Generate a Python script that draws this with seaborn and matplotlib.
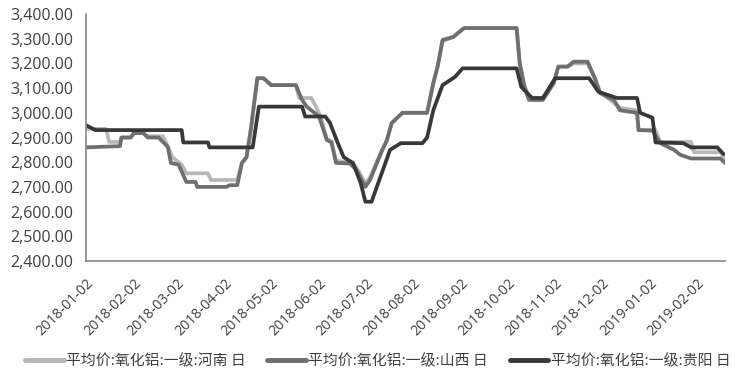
import matplotlib
matplotlib.use("Agg")
import matplotlib.pyplot as plt
import matplotlib.dates as mdates
from matplotlib.ticker import FuncFormatter, MultipleLocator
import seaborn as sns
import pandas as pd

# ---- data ----
henan_dates = ["2018-01-02", "2018-01-15", "2018-01-17", "2018-01-24", "2018-01-25", "2018-01-31",
               "2018-02-02", "2018-02-08", "2018-02-11", "2018-02-21", "2018-02-27", "2018-03-05",
               "2018-03-08", "2018-03-22", "2018-03-24", "2018-04-10", "2018-04-13", "2018-04-16",
               "2018-04-19", "2018-04-23", "2018-04-27", "2018-05-02", "2018-05-18", "2018-05-20",
               "2018-05-28", "2018-05-31", "2018-06-03", "2018-06-07", "2018-06-10", "2018-06-13",
               "2018-06-22", "2018-06-26", "2018-07-02", "2018-07-05", "2018-07-12", "2018-07-16",
               "2018-07-19", "2018-07-26", "2018-08-11", "2018-08-15", "2018-08-18", "2018-08-21",
               "2018-08-28", "2018-08-31", "2018-09-04", "2018-10-08", "2018-10-10", "2018-10-13",
               "2018-10-16", "2018-10-25", "2018-11-01", "2018-11-04", "2018-11-10", "2018-11-14",
               "2018-11-23", "2018-11-28", "2018-12-01", "2018-12-10", "2018-12-14", "2018-12-25",
               "2018-12-26", "2019-01-06", "2019-01-09", "2019-01-29", "2019-01-31", "2019-02-17",
               "2019-02-20"]
henan_values = [2935, 2935, 2882, 2882, 2900, 2900,
                2918, 2918, 2905, 2905, 2820, 2790,
                2755, 2755, 2728, 2728, 2797, 2820,
                2942, 3140, 3140, 3112, 3112, 3060,
                3060, 3025, 2985, 2895, 2885, 2805,
                2800, 2780, 2715, 2738, 2840, 2890,
                2958, 3000, 3000, 3120, 3193, 3290,
                3307, 3323, 3343, 3343, 3200, 3115,
                3055, 3055, 3120, 3187, 3187, 3200,
                3200, 3135, 3085, 3040, 3020, 3010,
                2930, 2930, 2882, 2882, 2840, 2840,
                2815]

shanxi_dates = ["2018-01-02", "2018-01-24", "2018-01-25", "2018-01-31", "2018-02-02", "2018-02-08",
                "2018-02-11", "2018-02-18", "2018-02-24", "2018-02-26", "2018-03-03", "2018-03-08",
                "2018-03-14", "2018-03-15", "2018-04-03", "2018-04-05", "2018-04-10", "2018-04-13",
                "2018-04-16", "2018-04-19", "2018-04-23", "2018-04-27", "2018-05-02", "2018-05-18",
                "2018-05-22", "2018-05-25", "2018-05-28", "2018-06-02", "2018-06-07", "2018-06-10",
                "2018-06-13", "2018-06-22", "2018-06-26", "2018-07-02", "2018-07-05", "2018-07-12",
                "2018-07-16", "2018-07-19", "2018-07-26", "2018-08-11", "2018-08-15", "2018-08-18",
                "2018-08-21", "2018-08-28", "2018-08-31", "2018-09-04", "2018-10-08", "2018-10-10",
                "2018-10-13", "2018-10-16", "2018-10-25", "2018-11-01", "2018-11-04", "2018-11-10",
                "2018-11-14", "2018-11-23", "2018-11-28", "2018-12-01", "2018-12-10", "2018-12-14",
                "2018-12-25", "2018-12-26", "2019-01-04", "2019-01-09", "2019-01-18", "2019-01-22",
                "2019-01-29", "2019-02-17", "2019-02-20"]
shanxi_values = [2860, 2865, 2900, 2900, 2918, 2918,
                 2900, 2900, 2862, 2797, 2790, 2720,
                 2720, 2700, 2700, 2707, 2707, 2797,
                 2820, 2942, 3140, 3140, 3112, 3112,
                 3052, 3025, 3010, 2985, 2890, 2880,
                 2797, 2795, 2770, 2700, 2728, 2835,
                 2890, 2958, 3000, 3000, 3120, 3193,
                 3295, 3307, 3323, 3343, 3343, 3200,
                 3105, 3052, 3052, 3120, 3187, 3187,
                 3207, 3207, 3135, 3080, 3052, 3010,
                 3000, 2930, 2928, 2877, 2850, 2830,
                 2815, 2815, 2797]

guiyang_dates = ["2018-01-02", "2018-01-08", "2018-03-05", "2018-03-06", "2018-03-22", "2018-03-23",
                 "2018-04-20", "2018-04-24", "2018-05-22", "2018-05-24", "2018-06-06", "2018-06-09",
                 "2018-06-14", "2018-06-18", "2018-06-24", "2018-06-29", "2018-07-02", "2018-07-06",
                 "2018-07-14", "2018-07-18", "2018-07-25", "2018-08-08", "2018-08-11", "2018-08-15",
                 "2018-08-21", "2018-08-29", "2018-09-03", "2018-10-08", "2018-10-11", "2018-10-18",
                 "2018-10-25", "2018-11-02", "2018-11-24", "2018-11-30", "2018-12-12", "2018-12-25",
                 "2018-12-27", "2019-01-04", "2019-01-06", "2019-01-24", "2019-01-29", "2019-02-15",
                 "2019-02-19"]
guiyang_values = [2950, 2930, 2930, 2880, 2880, 2860,
                  2860, 3025, 3025, 2985, 2985, 2960,
                  2880, 2820, 2797, 2715, 2640, 2640,
                  2780, 2850, 2877, 2877, 2900, 3010,
                  3112, 3145, 3180, 3180, 3105, 3060,
                  3060, 3140, 3140, 3085, 3060, 3060,
                  3000, 2980, 2880, 2877, 2860, 2860,
                  2833]

labels = ["平均价:氧化铝:一级:河南 日", "平均价:氧化铝:一级:山西 日", "平均价:氧化铝:一级:贵阳 日"]
colors = ["#b8b8b8", "#6f6f6f", "#383838"]
tick_dates = ["2018-01-02", "2018-02-02", "2018-03-02", "2018-04-02", "2018-05-02", "2018-06-02",
              "2018-07-02", "2018-08-02", "2018-09-02", "2018-10-02", "2018-11-02", "2018-12-02",
              "2019-01-02", "2019-02-02"]

# ---- build long table ----
frames = []
for lab, d, v in zip(labels, [henan_dates, shanxi_dates, guiyang_dates],
                     [henan_values, shanxi_values, guiyang_values]):
    frames.append(pd.DataFrame({"date": pd.to_datetime(d), "value": v, "series": lab}))
df = pd.concat(frames, ignore_index=True)

sns.set_style("white")
plt.rcParams["font.family"] = ["Noto Sans CJK SC", "DejaVu Sans"]

fig = plt.figure(figsize=(7.35, 3.8), dpi=100)
ax = fig.add_axes([86 / 735, 1 - 261 / 380, (725 - 86) / 735, (261 - 14) / 380])

sns.lineplot(data=df, x="date", y="value", hue="series", hue_order=labels,
             palette=colors, linewidth=2.7, ax=ax, estimator=None, sort=True)

ax.set_ylim(2400, 3400)
ax.yaxis.set_major_locator(MultipleLocator(100))
ax.yaxis.set_major_formatter(FuncFormatter(lambda v, p: f"{v:,.2f}"))
ax.set_xlim(pd.Timestamp("2018-01-02"), pd.Timestamp("2019-02-20"))
ax.set_xticks(pd.to_datetime(tick_dates))
ax.xaxis.set_major_formatter(mdates.DateFormatter("%Y-%m-%d"))
ax.set_xlabel("")
ax.set_ylabel("")

for s in ["top", "right"]:
    ax.spines[s].set_visible(False)
for s in ["left", "bottom"]:
    ax.spines[s].set_color("#888888")
    ax.spines[s].set_linewidth(1.2)

ax.tick_params(axis="both", which="major", direction="out", length=4, width=1,
               color="#888888", labelcolor="#404040")
ax.tick_params(axis="y", labelsize=11.5, pad=5)
ax.tick_params(axis="x", labelsize=10.2, pad=7)
for lbl in ax.get_yticklabels() + ax.get_xticklabels():
    lbl.set_family(["Open Sans", "DejaVu Sans"])
for lbl in ax.get_xticklabels():
    lbl.set_rotation(45)
    lbl.set_ha("right")
    lbl.set_rotation_mode("anchor")

sns.move_legend(ax, "center", bbox_to_anchor=(0.514, 0.05), bbox_transform=fig.transFigure,
                ncol=3, frameon=False, title=None, fontsize=10.7, handlelength=2.6,
                handletextpad=0.15, columnspacing=1.45)
leg = ax.get_legend()
for t in leg.get_texts():
    t.set_color("#404040")
for h in leg.get_lines():
    h.set_linewidth(3.5)

fig.savefig("out.png", dpi=100)
